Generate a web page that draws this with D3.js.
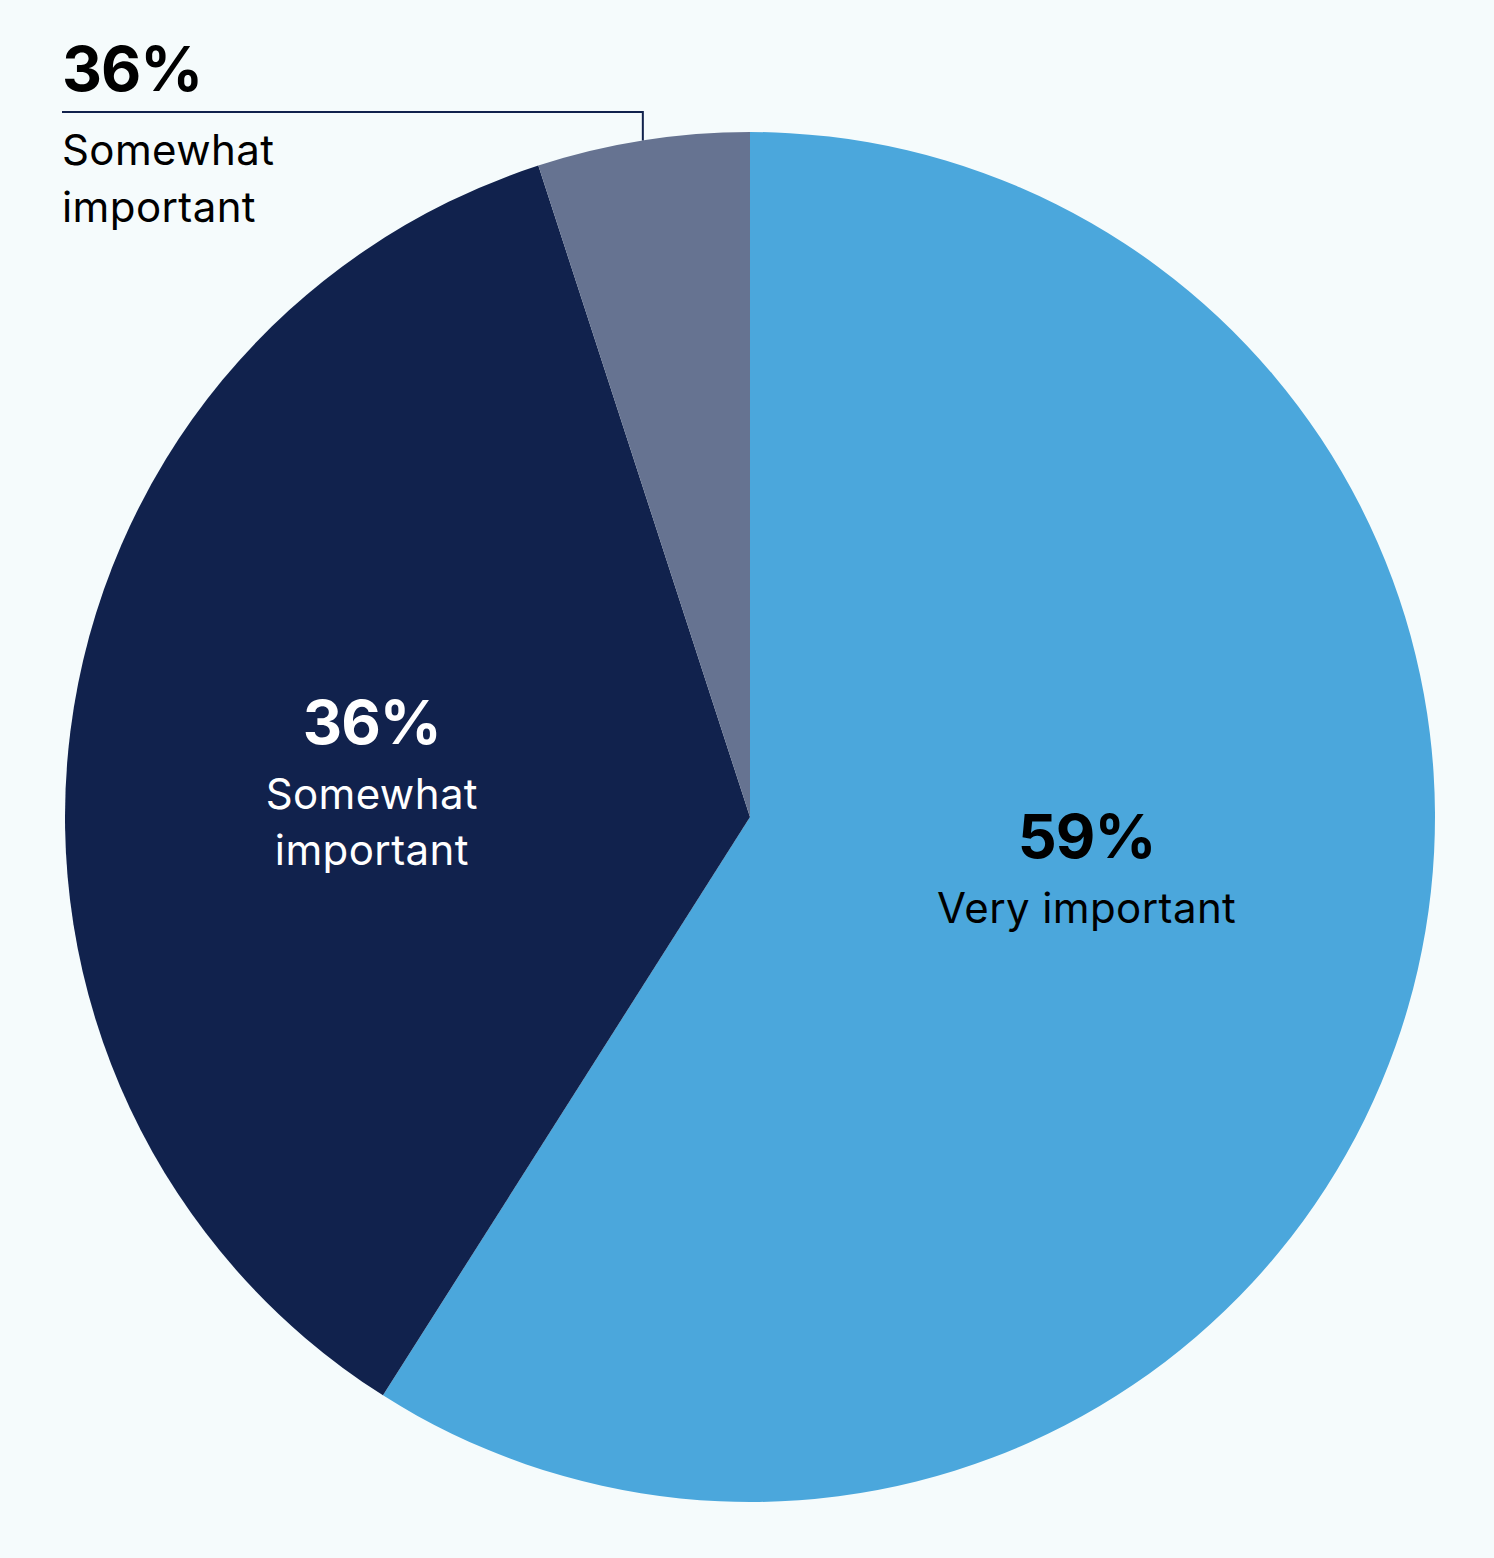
<!DOCTYPE html>
<html>
<head>
  <meta charset="utf-8">
  <style type="text/css">
    body {
      margin: 0;
      background-color: #f5fbfc;
    }
    svg {
      display: block;
      font-family: Inter, "Noto Sans", sans-serif;
    }
  </style>
  <script src="https://cdn.jsdelivr.net/npm/d3@7"></script>
</head>
<body>
  <script type="text/javascript">
    "use strict";

    // chart values, clockwise from 12 o'clock
    var categories = ["Very important", "Somewhat important", "Not important"];
    var values = [59, 36, 5];
    var pctLabels = ["59%", "36%", "36%"];   // third label is printed this way in the original
    var nameLines = [["Very important"], ["Somewhat", "important"], ["Somewhat", "important"]];
    var colors = ["#4ba7dc", "#11224d", "#667391"];
    var textColors = ["#000000", "#ffffff", "#000000"];

    var width = 1494,
        height = 1558,
        cx = 750,
        cy = 817,
        radius = 685;

    var svg = d3.select("body")
      .append("svg")
        .attr("width", width)
        .attr("height", height);

    svg.append("rect")
      .attr("width", width)
      .attr("height", height)
      .attr("fill", "#f5fbfc");

    var pie = d3.pie().sort(null).value(function(d) { return d; });
    var arcs = pie(values);

    var arc = d3.arc().innerRadius(0).outerRadius(radius);
    var labelArc = d3.arc().innerRadius(radius * 0.53).outerRadius(radius * 0.53);
    var edgeArc = d3.arc().innerRadius(radius).outerRadius(radius);

    var g = svg.append("g")
      .attr("transform", "translate(" + cx + "," + cy + ")");

    g.selectAll("path.slice")
      .data(arcs)
      .enter()
      .append("path")
        .attr("class", "slice")
        .attr("d", arc)
        .attr("fill", function(d, i) { return colors[i]; });

    // inside labels for the two big slices
    var nudge = [[-12, -60], [-18, -28]];
    arcs.slice(0, 2).forEach(function(d, i) {
      var c = labelArc.centroid(d);
      var x = c[0] + nudge[i][0],
          y = c[1] + nudge[i][1];
      var t = g.append("text")
        .attr("text-anchor", "middle")
        .attr("fill", textColors[i]);
      t.append("tspan")
        .attr("x", x)
        .attr("y", y)
        .attr("font-size", 61)
        .attr("font-weight", 700)
        .attr("letter-spacing", -1)
        .text(pctLabels[i]);
      nameLines[i].forEach(function(line, j) {
        t.append("tspan")
          .attr("x", x)
          .attr("y", y + 65 + j * 57)
          .attr("font-size", 42)
          .attr("font-weight", 400)
          .attr("letter-spacing", 0.4)
          .text(line);
      });
    });

    // small slice: label outside with leader line
    var small = arcs[2];
    var p = edgeArc.centroid(small);
    var lineY = 112 - cy,
        lineX = 62 - cx;
    g.append("path")
      .attr("d", "M" + p[0] + "," + p[1] + "V" + lineY + "H" + lineX)
      .attr("fill", "none")
      .attr("stroke", "#11224d")
      .attr("stroke-width", 2);

    var t2 = g.append("text")
      .attr("fill", textColors[2]);
    t2.append("tspan")
      .attr("x", lineX)
      .attr("y", lineY - 21)
      .attr("font-size", 62)
      .attr("font-weight", 700)
      .attr("letter-spacing", -1)
      .text(pctLabels[2]);
    nameLines[2].forEach(function(line, j) {
      t2.append("tspan")
        .attr("x", lineX)
        .attr("y", lineY + 53 + j * 57)
        .attr("font-size", 42)
        .attr("font-weight", 400)
        .attr("letter-spacing", 0.4)
        .text(line);
    });
  </script>
</body>
</html>
